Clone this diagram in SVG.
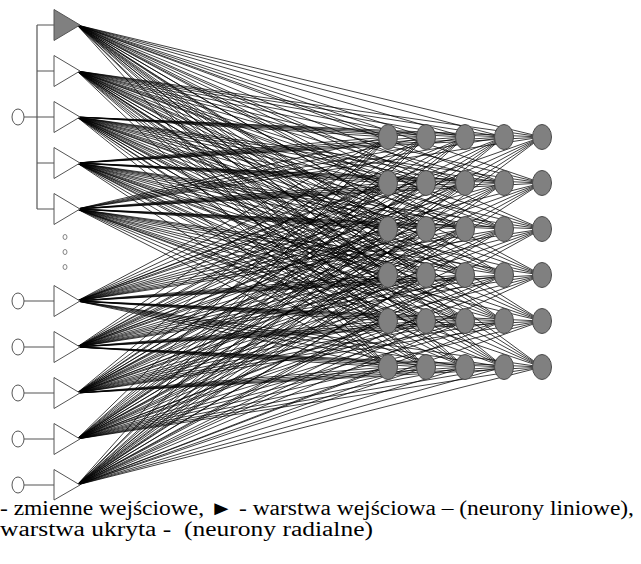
<svg xmlns="http://www.w3.org/2000/svg" width="641" height="564" viewBox="0 0 641 564">
<style>
.bg{fill:#fff}
.fan{fill:none;stroke:#000;stroke-width:0.75}
.wire{fill:none;stroke:#555;stroke-width:1.2}
.tri{fill:#fff;stroke:#555;stroke-width:1}
.tri-on{fill:#808080;stroke:#555;stroke-width:1}
.in{fill:#fff;stroke:#555;stroke-width:1}
.dot{fill:#fff;stroke:#777;stroke-width:0.9}
.hid{fill:#808080;stroke:#4a4a4a;stroke-width:1}
.cap{font-family:"Liberation Serif","Times New Roman",serif;font-size:20px;fill:#000;white-space:pre}
</style>
<rect class="bg" x="0" y="0" width="641" height="564"/>
<g id="connectors">
<path class="fan" d="M77 25L388 137M77 25L426 137M77 25L465 137M77 25L504 137M77 25L542 137M77 25L388 183M77 25L426 183M77 25L465 183M77 25L504 183M77 25L542 183M77 25L388 229M77 25L426 229M77 25L465 229M77 25L504 229M77 25L542 229M77 25L388 275M77 25L426 275M77 25L465 275M77 25L504 275M77 25L542 275M77 25L388 321M77 25L426 321M77 25L465 321M77 25L504 321M77 25L542 321M77 25L388 367M77 25L426 367M77 25L465 367M77 25L504 367M77 25L542 367"/>
<path class="fan" d="M77 71L388 137M77 71L426 137M77 71L465 137M77 71L504 137M77 71L542 137M77 71L388 183M77 71L426 183M77 71L465 183M77 71L504 183M77 71L542 183M77 71L388 229M77 71L426 229M77 71L465 229M77 71L504 229M77 71L542 229M77 71L388 275M77 71L426 275M77 71L465 275M77 71L504 275M77 71L542 275M77 71L388 321M77 71L426 321M77 71L465 321M77 71L504 321M77 71L542 321M77 71L388 367M77 71L426 367M77 71L465 367M77 71L504 367M77 71L542 367"/>
<path class="fan" d="M77 117L388 137M77 117L426 137M77 117L465 137M77 117L504 137M77 117L542 137M77 117L388 183M77 117L426 183M77 117L465 183M77 117L504 183M77 117L542 183M77 117L388 229M77 117L426 229M77 117L465 229M77 117L504 229M77 117L542 229M77 117L388 275M77 117L426 275M77 117L465 275M77 117L504 275M77 117L542 275M77 117L388 321M77 117L426 321M77 117L465 321M77 117L504 321M77 117L542 321M77 117L388 367M77 117L426 367M77 117L465 367M77 117L504 367M77 117L542 367"/>
<path class="fan" d="M77 163L388 137M77 163L426 137M77 163L465 137M77 163L504 137M77 163L542 137M77 163L388 183M77 163L426 183M77 163L465 183M77 163L504 183M77 163L542 183M77 163L388 229M77 163L426 229M77 163L465 229M77 163L504 229M77 163L542 229M77 163L388 275M77 163L426 275M77 163L465 275M77 163L504 275M77 163L542 275M77 163L388 321M77 163L426 321M77 163L465 321M77 163L504 321M77 163L542 321M77 163L388 367M77 163L426 367M77 163L465 367M77 163L504 367M77 163L542 367"/>
<path class="fan" d="M77 209L388 137M77 209L426 137M77 209L465 137M77 209L504 137M77 209L542 137M77 209L388 183M77 209L426 183M77 209L465 183M77 209L504 183M77 209L542 183M77 209L388 229M77 209L426 229M77 209L465 229M77 209L504 229M77 209L542 229M77 209L388 275M77 209L426 275M77 209L465 275M77 209L504 275M77 209L542 275M77 209L388 321M77 209L426 321M77 209L465 321M77 209L504 321M77 209L542 321M77 209L388 367M77 209L426 367M77 209L465 367M77 209L504 367M77 209L542 367"/>
<path class="fan" d="M77 301L388 137M77 301L426 137M77 301L465 137M77 301L504 137M77 301L542 137M77 301L388 183M77 301L426 183M77 301L465 183M77 301L504 183M77 301L542 183M77 301L388 229M77 301L426 229M77 301L465 229M77 301L504 229M77 301L542 229M77 301L388 275M77 301L426 275M77 301L465 275M77 301L504 275M77 301L542 275M77 301L388 321M77 301L426 321M77 301L465 321M77 301L504 321M77 301L542 321M77 301L388 367M77 301L426 367M77 301L465 367M77 301L504 367M77 301L542 367"/>
<path class="fan" d="M77 347L388 137M77 347L426 137M77 347L465 137M77 347L504 137M77 347L542 137M77 347L388 183M77 347L426 183M77 347L465 183M77 347L504 183M77 347L542 183M77 347L388 229M77 347L426 229M77 347L465 229M77 347L504 229M77 347L542 229M77 347L388 275M77 347L426 275M77 347L465 275M77 347L504 275M77 347L542 275M77 347L388 321M77 347L426 321M77 347L465 321M77 347L504 321M77 347L542 321M77 347L388 367M77 347L426 367M77 347L465 367M77 347L504 367M77 347L542 367"/>
<path class="fan" d="M77 393L388 137M77 393L426 137M77 393L465 137M77 393L504 137M77 393L542 137M77 393L388 183M77 393L426 183M77 393L465 183M77 393L504 183M77 393L542 183M77 393L388 229M77 393L426 229M77 393L465 229M77 393L504 229M77 393L542 229M77 393L388 275M77 393L426 275M77 393L465 275M77 393L504 275M77 393L542 275M77 393L388 321M77 393L426 321M77 393L465 321M77 393L504 321M77 393L542 321M77 393L388 367M77 393L426 367M77 393L465 367M77 393L504 367M77 393L542 367"/>
<path class="fan" d="M77 439L388 137M77 439L426 137M77 439L465 137M77 439L504 137M77 439L542 137M77 439L388 183M77 439L426 183M77 439L465 183M77 439L504 183M77 439L542 183M77 439L388 229M77 439L426 229M77 439L465 229M77 439L504 229M77 439L542 229M77 439L388 275M77 439L426 275M77 439L465 275M77 439L504 275M77 439L542 275M77 439L388 321M77 439L426 321M77 439L465 321M77 439L504 321M77 439L542 321M77 439L388 367M77 439L426 367M77 439L465 367M77 439L504 367M77 439L542 367"/>
<path class="fan" d="M77 485L388 137M77 485L426 137M77 485L465 137M77 485L504 137M77 485L542 137M77 485L388 183M77 485L426 183M77 485L465 183M77 485L504 183M77 485L542 183M77 485L388 229M77 485L426 229M77 485L465 229M77 485L504 229M77 485L542 229M77 485L388 275M77 485L426 275M77 485L465 275M77 485L504 275M77 485L542 275M77 485L388 321M77 485L426 321M77 485L465 321M77 485L504 321M77 485L542 321M77 485L388 367M77 485L426 367M77 485L465 367M77 485L504 367M77 485L542 367"/>
<path class="wire" d="M37 25V209M37 25H54M37 71H54M37 117H54M37 163H54M37 209H54M24 117H37"/>
<path class="wire" d="M24 301H54M24 347H54M24 393H54M24 439H54M24 485H54"/>
</g>
<g id="input-shared"><ellipse class="in" cx="18" cy="117" rx="6" ry="8"/></g>
<g id="in-6"><ellipse class="in" cx="18" cy="301" rx="6" ry="8"/></g>
<g id="in-7"><ellipse class="in" cx="18" cy="347" rx="6" ry="8"/></g>
<g id="in-8"><ellipse class="in" cx="18" cy="393" rx="6" ry="8"/></g>
<g id="in-9"><ellipse class="in" cx="18" cy="439" rx="6" ry="8"/></g>
<g id="in-10"><ellipse class="in" cx="18" cy="485" rx="6" ry="8"/></g>
<g id="tri-1"><polygon class="tri-on" points="54,9.5 80,25 54,40.5"/></g>
<g id="tri-2"><polygon class="tri" points="54,55.5 80,71 54,86.5"/></g>
<g id="tri-3"><polygon class="tri" points="54,101.5 80,117 54,132.5"/></g>
<g id="tri-4"><polygon class="tri" points="54,147.5 80,163 54,178.5"/></g>
<g id="tri-5"><polygon class="tri" points="54,193.5 80,209 54,224.5"/></g>
<g id="tri-6"><polygon class="tri" points="54,285.5 80,301 54,316.5"/></g>
<g id="tri-7"><polygon class="tri" points="54,331.5 80,347 54,362.5"/></g>
<g id="tri-8"><polygon class="tri" points="54,377.5 80,393 54,408.5"/></g>
<g id="tri-9"><polygon class="tri" points="54,423.5 80,439 54,454.5"/></g>
<g id="tri-10"><polygon class="tri" points="54,469.5 80,485 54,500"/></g>
<g id="ellipsis">
<ellipse class="dot" cx="65" cy="237" rx="2" ry="2.5"/>
<ellipse class="dot" cx="65" cy="252" rx="2" ry="2.5"/>
<ellipse class="dot" cx="65" cy="267" rx="2" ry="2.5"/>
</g>
<g id="hidden">
<g id="h-1-1"><ellipse class="hid" cx="388" cy="137" rx="9.5" ry="12.5"/></g>
<g id="h-1-2"><ellipse class="hid" cx="426" cy="137" rx="9.5" ry="12.5"/></g>
<g id="h-1-3"><ellipse class="hid" cx="465" cy="137" rx="9.5" ry="12.5"/></g>
<g id="h-1-4"><ellipse class="hid" cx="504" cy="137" rx="9.5" ry="12.5"/></g>
<g id="h-1-5"><ellipse class="hid" cx="542" cy="137" rx="9.5" ry="12.5"/></g>
<g id="h-2-1"><ellipse class="hid" cx="388" cy="183" rx="9.5" ry="12.5"/></g>
<g id="h-2-2"><ellipse class="hid" cx="426" cy="183" rx="9.5" ry="12.5"/></g>
<g id="h-2-3"><ellipse class="hid" cx="465" cy="183" rx="9.5" ry="12.5"/></g>
<g id="h-2-4"><ellipse class="hid" cx="504" cy="183" rx="9.5" ry="12.5"/></g>
<g id="h-2-5"><ellipse class="hid" cx="542" cy="183" rx="9.5" ry="12.5"/></g>
<g id="h-3-1"><ellipse class="hid" cx="388" cy="229" rx="9.5" ry="12.5"/></g>
<g id="h-3-2"><ellipse class="hid" cx="426" cy="229" rx="9.5" ry="12.5"/></g>
<g id="h-3-3"><ellipse class="hid" cx="465" cy="229" rx="9.5" ry="12.5"/></g>
<g id="h-3-4"><ellipse class="hid" cx="504" cy="229" rx="9.5" ry="12.5"/></g>
<g id="h-3-5"><ellipse class="hid" cx="542" cy="229" rx="9.5" ry="12.5"/></g>
<g id="h-4-1"><ellipse class="hid" cx="388" cy="275" rx="9.5" ry="12.5"/></g>
<g id="h-4-2"><ellipse class="hid" cx="426" cy="275" rx="9.5" ry="12.5"/></g>
<g id="h-4-3"><ellipse class="hid" cx="465" cy="275" rx="9.5" ry="12.5"/></g>
<g id="h-4-4"><ellipse class="hid" cx="504" cy="275" rx="9.5" ry="12.5"/></g>
<g id="h-4-5"><ellipse class="hid" cx="542" cy="275" rx="9.5" ry="12.5"/></g>
<g id="h-5-1"><ellipse class="hid" cx="388" cy="321" rx="9.5" ry="12.5"/></g>
<g id="h-5-2"><ellipse class="hid" cx="426" cy="321" rx="9.5" ry="12.5"/></g>
<g id="h-5-3"><ellipse class="hid" cx="465" cy="321" rx="9.5" ry="12.5"/></g>
<g id="h-5-4"><ellipse class="hid" cx="504" cy="321" rx="9.5" ry="12.5"/></g>
<g id="h-5-5"><ellipse class="hid" cx="542" cy="321" rx="9.5" ry="12.5"/></g>
<g id="h-6-1"><ellipse class="hid" cx="388" cy="367" rx="9.5" ry="12.5"/></g>
<g id="h-6-2"><ellipse class="hid" cx="426" cy="367" rx="9.5" ry="12.5"/></g>
<g id="h-6-3"><ellipse class="hid" cx="465" cy="367" rx="9.5" ry="12.5"/></g>
<g id="h-6-4"><ellipse class="hid" cx="504" cy="367" rx="9.5" ry="12.5"/></g>
<g id="h-6-5"><ellipse class="hid" cx="542" cy="367" rx="9.5" ry="12.5"/></g>
</g>
<g id="caption">
<text class="cap" x="0" y="515" textLength="634" lengthAdjust="spacingAndGlyphs">- zmienne wejściowe, ► - warstwa wejściowa – (neurony liniowe),</text>
<text class="cap" x="0" y="536" textLength="373" lengthAdjust="spacingAndGlyphs" xml:space="preserve">warstwa ukryta -  (neurony radialne)</text>
</g>
</svg>
